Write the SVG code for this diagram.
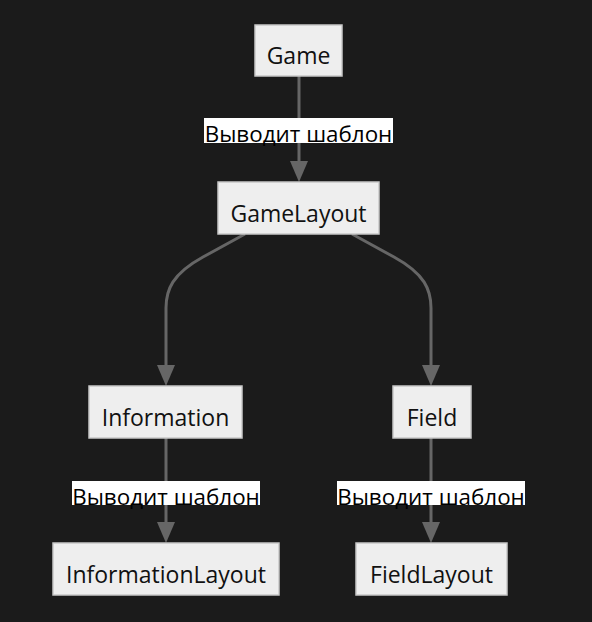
<svg xmlns="http://www.w3.org/2000/svg" width="592" height="622" viewBox="0 0 592 622">
<style>
.node rect{fill:#eeeeee;stroke:#c8c8c8;stroke-width:1.5}
.node text{font-family:"Open Sans","DejaVu Sans",sans-serif;font-size:23px;fill:#111;text-anchor:middle;dominant-baseline:central}
.edge{fill:none;stroke:#666666;stroke-width:3}
.head{fill:#666666}
.lbl rect{fill:#ffffff}
.lbl text{font-family:"Open Sans","DejaVu Sans",sans-serif;font-size:22.4px;fill:#000;text-anchor:middle;dominant-baseline:central}
</style>
<rect width="592" height="622" fill="#1b1b1b"/>
<g id="edges">
<path class="edge" d="M299,76 L299,172"/>
<path class="head" d="M290,161 L308,161 L299,182 z"/>
<path class="edge" d="M245,234 L203,257 C172,274 166,290 166,308 L166,372"/>
<path class="head" d="M157,365 L175,365 L166,386 z"/>
<path class="edge" d="M352,234 L394,257 C425,274 431,290 431,308 L431,372"/>
<path class="head" d="M422,365 L440,365 L431,386 z"/>
<path class="edge" d="M166,438 L166,530"/>
<path class="head" d="M157,522 L175,522 L166,543 z"/>
<path class="edge" d="M431,438 L431,530"/>
<path class="head" d="M422,522 L440,522 L431,543 z"/>
<g class="lbl"><rect x="204" y="118" width="189" height="25"/><text x="298.5" y="133.5">Выводит шаблон</text></g>
<g class="lbl"><rect x="72" y="481" width="188" height="24"/><text x="166" y="496">Выводит шаблон</text></g>
<g class="lbl"><rect x="337" y="481" width="188" height="24"/><text x="431" y="496">Выводит шаблон</text></g>
</g>
<g id="n-game" class="node"><rect x="255" y="25" width="87" height="51"/><text x="298.5" y="55">Game</text></g>
<g id="n-gamelayout" class="node"><rect x="218" y="182" width="161" height="52"/><text x="298.5" y="212.5">GameLayout</text></g>
<g id="n-information" class="node"><rect x="89" y="386" width="153" height="52"/><text x="165.5" y="416.5">Information</text></g>
<g id="n-field" class="node"><rect x="393" y="386" width="78" height="52"/><text x="432" y="416.5">Field</text></g>
<g id="n-informationlayout" class="node"><rect x="53" y="543" width="226" height="52"/><text x="166" y="573.5">InformationLayout</text></g>
<g id="n-fieldlayout" class="node"><rect x="356" y="543" width="151" height="52"/><text x="431.5" y="573.5">FieldLayout</text></g>
</svg>
